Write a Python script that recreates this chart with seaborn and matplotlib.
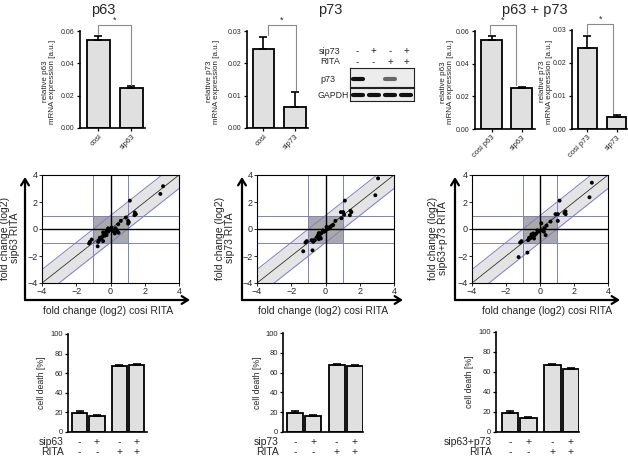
import numpy as np
import pandas as pd
import matplotlib
matplotlib.use("Agg")
import matplotlib.pyplot as plt
import matplotlib.patches as mpatches
import seaborn as sns

# ---------------- data ----------------
# top row: relative mRNA expression
p63_cats = ["cosi", "sip63"]
p63_vals = [0.0545, 0.0250]
p63_errs = [0.0025, 0.0007]

p73_cats = ["cosi", "sip73"]
p73_vals = [0.0245, 0.0066]
p73_errs = [0.0037, 0.0044]

both_p63_cats = ["cosi p63", "sip63"]
both_p63_vals = [0.0545, 0.0250]
both_p63_errs = [0.0025, 0.0007]

both_p73_cats = ["cosi p73", "sip73"]
both_p73_vals = [0.0245, 0.0035]
both_p73_errs = [0.0037, 0.0007]

# western blot
blot_sip73 = ["-", "+", "-", "+"]
blot_rita = ["-", "-", "+", "+"]
band_p73 = [1.0, 0.0, 0.6, 0.0]
band_gapdh = [1.0, 1.0, 1.0, 1.0]

# middle row: fold change (log2)
x63 = [3.07, 2.91, 1.13, 1.42, 1.48, 1.40, 1.03, 1.07, 1.03, 0.90, 0.60, 0.45, 0.30, 0.39, 0.47, 0.20,
       0.25, 0.12, 0.00, -0.08, -0.14, -0.23, -0.31, -0.39, -0.43, -0.33, -0.23, -0.47, -0.52, -0.62,
       -0.66, -0.43, -0.72, -0.14, 0.06, -1.10, -1.20, -1.25, -0.75]
y63 = [3.17, 2.60, 2.10, 1.22, 1.10, 1.02, 0.60, 0.50, 0.40, 0.85, 0.60, 0.35, 0.05, -0.15, -0.28, -0.20,
       -0.33, -0.08, 0.00, -0.10, -0.20, -0.15, -0.30, -0.40, -0.25, -0.50, -0.45, -0.55, -0.70, -0.65,
       -0.83, -0.90, -0.95, 0.05, 0.10, -0.78, -0.95, -1.07, -1.28]

x73 = [3.07, 2.91, 1.13, 1.46, 1.51, 1.42, 1.03, 0.90, 1.09, 0.93, 0.58, 0.45, 0.30, 0.25, 0.39, 0.12,
       0.00, -0.08, -0.16, -0.23, -0.31, -0.39, -0.43, -0.33, -0.27, -0.50, -0.39, -0.62, -0.72, -0.81,
       -1.10, -1.17, -1.30, -0.76, 0.06, 0.18]
y73 = [3.75, 2.50, 2.10, 1.35, 1.25, 1.02, 1.25, 1.25, 1.05, 0.80, 0.60, 0.30, 0.18, 0.05, 0.25, 0.00,
       -0.15, -0.20, -0.10, -0.30, -0.35, -0.30, -0.45, -0.55, -0.70, -0.60, -0.75, -0.83, -0.95, -0.83,
       -0.90, -1.00, -1.65, -1.58, 0.15, 0.10]

xboth = [3.05, 2.91, 1.15, 1.50, 1.44, 1.51, 0.91, 1.05, 1.05, 0.62, 0.39, 0.27, 0.33, 0.08, 0.14, 0.00,
         -0.08, -0.16, -0.23, -0.31, -0.39, -0.43, -0.54, -0.58, -0.64, -0.70, -0.35, -0.50, 0.23, -1.09,
         -1.17, -0.74, -1.26]
yboth = [3.43, 2.35, 2.10, 1.30, 1.18, 1.10, 1.10, 1.10, 0.60, 0.55, 0.25, 0.05, -0.45, 0.42, -0.08, -0.15,
         -0.20, -0.10, -0.35, -0.45, -0.33, -0.60, -0.58, -0.70, -0.65, -0.83, -0.70, -0.40, -0.20, -0.90,
         -1.00, -1.75, -2.08]

# bottom row: cell death [%]
death_pos = [0.0, 1.0, 2.3, 3.3]
death_sip = ["-", "+", "-", "+"]
death_rita = ["-", "-", "+", "+"]
death63_vals = [19.0, 16.5, 67.5, 68.0]
death63_errs = [2.0, 0.5, 0.7, 1.0]
death73_vals = [19.0, 16.5, 67.5, 66.5]
death73_errs = [2.0, 1.0, 0.8, 1.0]
deathboth_vals = [19.0, 14.5, 67.0, 63.5]
deathboth_errs = [2.0, 0.6, 1.0, 1.0]

# ---------------- style ----------------
sns.set_theme(style="white")
plt.rcParams["font.family"] = ["Liberation Sans", "DejaVu Sans"]
plt.rcParams["axes.linewidth"] = 1.2

BAR = "#e0e0e0"
BAND = "#e4e4e4"
SQ = "#a9a9a9"
BLUE = "#7c80c4"

W, H = 628, 457
fig = plt.figure(figsize=(W / 100, H / 100), dpi=100)
fig.patch.set_facecolor("white")


def ax_px(l, t, r, b):
    return fig.add_axes([l / W, 1 - b / H, (r - l) / W, (b - t) / H])


def ftext(x, y, s, **kw):
    return fig.text(x / W, 1 - y / H, s, **kw)


def style_bar_axes(ax, labelsize=5):
    for s in ("top", "right"):
        ax.spines[s].set_visible(False)
    for s in ("left", "bottom"):
        ax.spines[s].set_color("black")
        ax.spines[s].set_linewidth(1.2)
    ax.tick_params(axis="both", direction="out", length=2.5, width=0.9, color="black",
                   labelsize=labelsize, pad=1.2, left=True, bottom=True)
    ax.set_xlabel("")
    ax.set_ylabel("")


def expr_bar(box, cats, vals, errs, width, xlim, ymax, yticks, bracket, ylab_x, ylabel):
    ax = ax_px(*box)
    df = pd.DataFrame({"cat": cats, "val": vals})
    sns.barplot(data=df, x="cat", y="val", ax=ax, color=BAR, saturation=1, edgecolor="black",
                linewidth=1.3, width=width, errorbar=None)
    ax.errorbar(np.arange(len(cats)), vals, yerr=[np.zeros(len(vals)), errs], fmt="none",
                ecolor="black", elinewidth=1.2, capsize=3, capthick=1.2, zorder=1)
    ax.set_xlim(*xlim)
    ax.set_ylim(0, ymax)
    ax.set_yticks(yticks)
    ax.set_yticklabels([f"{t:.2f}" for t in yticks])
    style_bar_axes(ax, 5)
    ax.set_xticks(range(len(cats)))
    ax.set_xticklabels(cats, rotation=45, ha="right", rotation_mode="anchor", fontsize=5.5)
    # significance bracket
    bx0, bx1, bh = bracket
    tops = [v + e for v, e in zip(vals, errs)]
    gap = 0.02 * ymax
    ax.plot([bx0, bx0, bx1, bx1], [tops[0] + gap, bh, bh, tops[1] + gap], color="#8a8a8a",
            lw=0.8, clip_on=False)
    ax.text((bx0 + bx1) / 2, bh + 0.005 * ymax, "*", ha="center", va="bottom", fontsize=6.5)
    ftext(ylab_x, (box[1] + box[3]) / 2 + 2, ylabel, rotation=90, ha="center", va="center",
          fontsize=5.8, multialignment="center", linespacing=1.0)
    return ax


# ---- top row ----
expr_bar((80, 31, 145, 128), p63_cats, p63_vals, p63_errs, 0.7, (-0.56, 1.41), 0.06,
         [0.0, 0.02, 0.04, 0.06], (0.0, 1.0, 0.0637), 49, "relative p63\nmRNA expression [a.u.]")
expr_bar((247, 31, 308, 128), p73_cats, p73_vals, p73_errs, 0.67, (-0.52, 1.41), 0.03,
         [0.0, 0.01, 0.02, 0.03], (0.14, 1.03, 0.0318), 213, "relative p73\nmRNA expression [a.u.]")
expr_bar((475, 31, 535, 129), both_p63_cats, both_p63_vals, both_p63_errs, 0.7, (-0.55, 1.45), 0.06,
         [0.0, 0.02, 0.04, 0.06], (-0.05, 0.8, 0.0637), 447, "relative p63\nmRNA expression [a.u.]")
expr_bar((572, 30, 627, 129), both_p73_cats, both_p73_vals, both_p73_errs, 0.66, (-0.53, 1.36), 0.03,
         [0.0, 0.01, 0.02, 0.03], (0.0, 0.88, 0.0318), 546, "relative p73\nmRNA expression [a.u.]")

ftext(103, 10, "p63", ha="center", va="center", fontsize=10.5)
ftext(330, 10, "p73", ha="center", va="center", fontsize=10.5)
ftext(535, 10, "p63 + p73", ha="center", va="center", fontsize=10.5)

# ---- western blot ----
lane_x = [357, 373, 390, 406]
ftext(319, 51, "sip73", ha="left", va="center", fontsize=6.5)
ftext(320, 62, "RITA", ha="left", va="center", fontsize=6.5)
ftext(320, 79, "p73", ha="left", va="center", fontsize=6.5)
ftext(318, 96, "GAPDH", ha="left", va="center", fontsize=6.3)
for lx, a, b in zip(lane_x, blot_sip73, blot_rita):
    ftext(lx, 51, a, ha="center", va="center", fontsize=7)
    ftext(lx, 62, b, ha="center", va="center", fontsize=7)

for box, bands, by in (((350, 68, 414, 87), band_p73, 0.42), ((350, 88, 414, 101), band_gapdh, 0.5)):
    bax = ax_px(*box)
    bax.set_facecolor("#ececec")
    bax.set_xlim(0, 4)
    bax.set_ylim(0, 1)
    bax.set_xticks([])
    bax.set_yticks([])
    for s in bax.spines.values():
        s.set_visible(True)
        s.set_color("#222222")
        s.set_linewidth(0.8)
    for i, inten in enumerate(bands):
        if inten > 0:
            half = 0.33 * (0.7 + 0.3 * inten)
            bax.plot([i + 0.5 - half, i + 0.5 + half], [by, by], color="#111111", alpha=inten,
                     lw=3.0, solid_capstyle="round")


# ---- middle row ----
def fc_panel(box, xs, ys, arrow_x, arrow_right, ylabel, ylab_x, xlab_x):
    ax = ax_px(*box)
    lims = np.array([-4.0, 4.0])
    ax.fill_between(lims, lims - 1, lims + 1, color=BAND, lw=0, zorder=0)
    ax.fill_between([-1, 1], [-1, -1], [1, 1], color=SQ, lw=0, zorder=1)
    for v in (-1, 1):
        ax.axvline(v, color=BLUE, lw=0.7, zorder=2)
        ax.axhline(v, color=BLUE, lw=0.7, zorder=2)
    ax.plot(lims, lims - 1, color=BLUE, lw=0.7, zorder=2)
    ax.plot(lims, lims + 1, color=BLUE, lw=0.7, zorder=2)
    ax.plot(lims, lims, color="#333333", lw=0.6, zorder=2)
    ax.axvline(0, color="black", lw=1.0, zorder=3)
    ax.axhline(0, color="black", lw=1.0, zorder=3)
    sns.scatterplot(x=xs, y=ys, ax=ax, color="black", s=8, edgecolor="none", zorder=5)
    ax.set_xlim(-4, 4)
    ax.set_ylim(-4, 4)
    ax.set_xticks([-4, -2, 0, 2, 4])
    ax.set_yticks([-4, -2, 0, 2, 4])
    for s in ax.spines.values():
        s.set_visible(True)
        s.set_color("black")
        s.set_linewidth(0.8)
    ax.tick_params(axis="both", direction="out", length=2, width=0.7, labelsize=6.5, pad=1,
                   left=True, bottom=True)
    ax.set_xlabel("")
    ax.set_ylabel("")
    # arrows
    y0 = 300
    for end in ((arrow_x, 177), (arrow_right, y0)):
        fig.add_artist(mpatches.FancyArrowPatch(
            (arrow_x / W, 1 - y0 / H), (end[0] / W, 1 - end[1] / H), transform=fig.transFigure,
            arrowstyle="->,head_length=4.5,head_width=2.8", mutation_scale=1, lw=1.6,
            color="black", shrinkA=0, shrinkB=0))
    ftext(ylab_x, 238, ylabel, rotation=90, ha="center", va="center", fontsize=7.5,
          multialignment="center", linespacing=1.0)
    ftext(xlab_x, 311, "fold change (log2) cosi RITA", ha="center", va="center", fontsize=7.5)
    return ax


fc_panel((42, 175, 179, 283), x63, y63, 25, 190, "fold change (log2)\nsip63 RITA", 10, 108)
fc_panel((257, 175, 394, 283), x73, y73, 242, 403, "fold change (log2)\nsip73 RITA", 225, 323)
fc_panel((472, 175, 608, 283), xboth, yboth, 455, 620, "fold change (log2)\nsip63+p73 RITA", 438, 547)


# ---- bottom row ----
def death_panel(box, vals, errs, xlim, rowlabel, ylab_x):
    ax = ax_px(*box)
    df = pd.DataFrame({"pos": death_pos, "val": vals})
    sns.barplot(data=df, x="pos", y="val", native_scale=True, width=0.9, ax=ax, color=BAR,
                saturation=1, edgecolor="black", linewidth=1.3, errorbar=None)
    ax.errorbar(death_pos, vals, yerr=[np.zeros(len(vals)), errs], fmt="none", ecolor="black",
                elinewidth=1.2, capsize=3, capthick=1.2, zorder=1)
    ax.set_xlim(*xlim)
    ax.set_ylim(0, 100)
    ax.set_yticks([0, 20, 40, 60, 80, 100])
    style_bar_axes(ax, 5.5)
    ax.set_xticks([])
    ax.tick_params(axis="x", length=0)
    for p, a, b in zip(death_pos, death_sip, death_rita):
        ax.annotate(a, xy=(p, 0), xycoords=("data", "axes fraction"), xytext=(0, -7.5),
                    textcoords="offset points", ha="center", va="center", fontsize=7.5,
                    annotation_clip=False)
        ax.annotate(b, xy=(p, 0), xycoords=("data", "axes fraction"), xytext=(0, -14.5),
                    textcoords="offset points", ha="center", va="center", fontsize=7.5,
                    annotation_clip=False)
    ax.annotate(rowlabel, xy=(0, 0), xycoords="axes fraction", xytext=(-3, -7.5),
                textcoords="offset points", ha="right", va="center", fontsize=7.5,
                annotation_clip=False)
    ax.annotate("RITA", xy=(0, 0), xycoords="axes fraction", xytext=(-3, -14.5),
                textcoords="offset points", ha="right", va="center", fontsize=7.5,
                annotation_clip=False)
    ftext(ylab_x, (box[1] + box[3]) / 2, "cell death [%]", rotation=90, ha="center", va="center",
          fontsize=6.3)
    return ax


death_panel((68, 334, 147, 432), death63_vals, death63_errs, (-0.68, 3.9), "sip63", 42)
death_panel((283, 333, 363, 432), death73_vals, death73_errs, (-0.67, 3.75), "sip73", 257)
death_panel((496, 332, 579, 432), deathboth_vals, deathboth_errs, (-0.76, 3.74), "sip63+p73", 470)

fig.savefig("out.png", dpi=100, facecolor="white")
